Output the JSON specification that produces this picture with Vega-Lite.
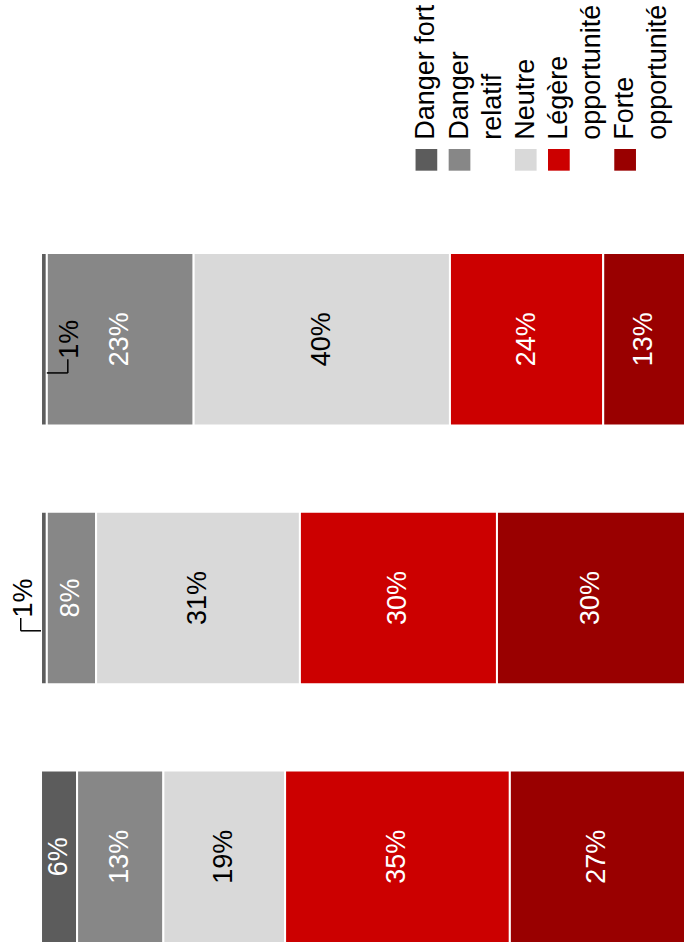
{
  "$schema": "https://vega.github.io/schema/vega-lite/v6.json",
  "padding": 0,
  "background": "white",
  "config": {"view": {"stroke": null}, "font": "Liberation Sans", "text": {"font": "Liberation Sans"}},
  "datasets": {
    "bars": [
      {"bar": "1", "cat": "Danger fort", "k": 1, "value": 0.9, "label": "1%"},
      {"bar": "1", "cat": "Danger relatif", "k": 2, "value": 22.8, "label": "23%"},
      {"bar": "1", "cat": "Neutre", "k": 3, "value": 39.8, "label": "40%"},
      {"bar": "1", "cat": "Légère opportunité", "k": 4, "value": 23.8, "label": "24%"},
      {"bar": "1", "cat": "Forte opportunité", "k": 5, "value": 12.7, "label": "13%"},
      {"bar": "2", "cat": "Danger fort", "k": 1, "value": 0.9, "label": "1%"},
      {"bar": "2", "cat": "Danger relatif", "k": 2, "value": 7.65, "label": "8%"},
      {"bar": "2", "cat": "Neutre", "k": 3, "value": 31.65, "label": "31%"},
      {"bar": "2", "cat": "Légère opportunité", "k": 4, "value": 30.6, "label": "30%"},
      {"bar": "2", "cat": "Forte opportunité", "k": 5, "value": 29.2, "label": "30%"},
      {"bar": "3", "cat": "Danger fort", "k": 1, "value": 5.6, "label": "6%"},
      {"bar": "3", "cat": "Danger relatif", "k": 2, "value": 13.4, "label": "13%"},
      {"bar": "3", "cat": "Neutre", "k": 3, "value": 18.9, "label": "19%"},
      {"bar": "3", "cat": "Légère opportunité", "k": 4, "value": 34.9, "label": "35%"},
      {"bar": "3", "cat": "Forte opportunité", "k": 5, "value": 27.2, "label": "27%"}
    ],
    "legend": [
      {"cat": "Danger fort", "col": 0},
      {"cat": "Danger relatif", "col": 1},
      {"cat": "Neutre", "col": 3},
      {"cat": "Légère opportunité", "col": 4},
      {"cat": "Forte opportunité", "col": 6}
    ],
    "lines": [
      {"line": "Danger fort", "col": 0},
      {"line": "Danger", "col": 1},
      {"line": "relatif", "col": 2},
      {"line": "Neutre", "col": 3},
      {"line": "Légère", "col": 4},
      {"line": "opportunité", "col": 5},
      {"line": "Forte", "col": 6},
      {"line": "opportunité", "col": 7}
    ]
  },
  "spacing": 0,
  "resolve": {"scale": {"x": "independent", "y": "independent"}},
  "vconcat": [
    {
      "width": 685,
      "height": 251.7,
      "encoding": {
        "x": {"field": "col", "type": "quantitative", "scale": {"domain": [-12.874, 7.808], "nice": false, "zero": false}, "axis": null},
        "y": {"datum": "légende", "type": "nominal", "scale": {"type": "point", "align": 0.635, "padding": 0}, "axis": null}
      },
      "layer": [
        {
          "data": {"name": "legend"},
          "mark": {"type": "point", "shape": "square", "filled": true, "size": 471, "opacity": 1, "strokeWidth": 0},
          "encoding": {
            "color": {"field": "cat", "type": "nominal", "scale": {"domain": ["Danger fort", "Danger relatif", "Neutre", "Légère opportunité", "Forte opportunité"], "range": ["#5c5c5c", "#878787", "#d9d9d9", "#cc0000", "#990000"]}, "legend": null}
          }
        },
        {
          "data": {"name": "lines"},
          "mark": {"type": "text", "angle": 270, "align": "left", "baseline": "middle", "dx": 20, "fontSize": 27, "color": "black"},
          "encoding": {
            "text": {"field": "line"}
          }
        }
      ]
    },
    {
      "width": 685,
      "height": 690,
      "data": {"name": "bars"},
      "transform": [
        {"stack": "value", "groupby": ["bar"], "sort": [{"field": "k", "order": "ascending"}], "offset": "normalize", "as": ["v0", "v1"]},
        {"calculate": "(datum.v0 + datum.v1) / 2", "as": "mid"}
      ],
      "encoding": {
        "y": {"field": "bar", "type": "nominal", "scale": {"paddingInner": 0.333, "paddingOuter": 0}, "axis": null}
      },
      "layer": [
        {
          "mark": {"type": "bar", "stroke": "white", "strokeWidth": 2},
          "encoding": {
            "x": {"field": "v0", "type": "quantitative", "scale": {"domain": [-0.0637, 1], "nice": false, "zero": false}, "axis": null},
            "x2": {"field": "v1"},
            "color": {"field": "cat", "type": "nominal", "legend": null}
          }
        },
        {
          "transform": [{"filter": "datum.value >= 3"}],
          "mark": {"type": "text", "angle": 270, "align": "center", "baseline": "middle", "fontSize": 27},
          "encoding": {
            "x": {"field": "mid", "type": "quantitative"},
            "text": {"field": "label"},
            "color": {"condition": {"test": "datum.cat === 'Neutre'", "value": "black"}, "value": "white"}
          }
        },
        {
          "transform": [{"filter": "datum.bar === '1' && datum.k === 1"}],
          "mark": {"type": "text", "angle": 270, "align": "center", "baseline": "middle", "fontSize": 27, "color": "black", "dy": 23},
          "encoding": {"x": {"field": "v1", "type": "quantitative"}, "text": {"field": "label"}}
        },
        {
          "transform": [{"filter": "datum.bar === '1' && datum.k === 1"}],
          "mark": {"type": "rule", "color": "black", "strokeWidth": 1.5, "x2Offset": 21},
          "encoding": {"x": {"field": "v1", "type": "quantitative"}, "x2": {"field": "v1"}, "y": {"field": "bar", "type": "nominal", "bandPosition": 0.695}}
        },
        {
          "transform": [{"filter": "datum.bar === '1' && datum.k === 1"}],
          "mark": {"type": "rule", "color": "black", "strokeWidth": 1.5, "xOffset": 21},
          "encoding": {"x": {"field": "v1", "type": "quantitative"}, "y": {"field": "bar", "type": "nominal", "bandPosition": 0.616}, "y2": {"field": "bar", "bandPosition": 0.695}}
        },
        {
          "transform": [{"filter": "datum.bar === '2' && datum.k === 1"}],
          "mark": {"type": "text", "angle": 270, "align": "center", "baseline": "middle", "fontSize": 27, "color": "black", "dy": -17},
          "encoding": {"x": {"field": "v0", "type": "quantitative"}, "text": {"field": "label"}}
        },
        {
          "transform": [{"filter": "datum.bar === '2' && datum.k === 1"}],
          "mark": {"type": "rule", "color": "black", "strokeWidth": 1.5, "x2Offset": -20.3},
          "encoding": {"x": {"field": "v0", "type": "quantitative"}, "x2": {"field": "v0"}, "y": {"field": "bar", "type": "nominal", "bandPosition": 0.69}}
        },
        {
          "transform": [{"filter": "datum.bar === '2' && datum.k === 1"}],
          "mark": {"type": "rule", "color": "black", "strokeWidth": 1.5, "xOffset": -20.3},
          "encoding": {"x": {"field": "v0", "type": "quantitative"}, "y": {"field": "bar", "type": "nominal", "bandPosition": 0.616}, "y2": {"field": "bar", "bandPosition": 0.69}}
        }
      ]
    }
  ]
}
